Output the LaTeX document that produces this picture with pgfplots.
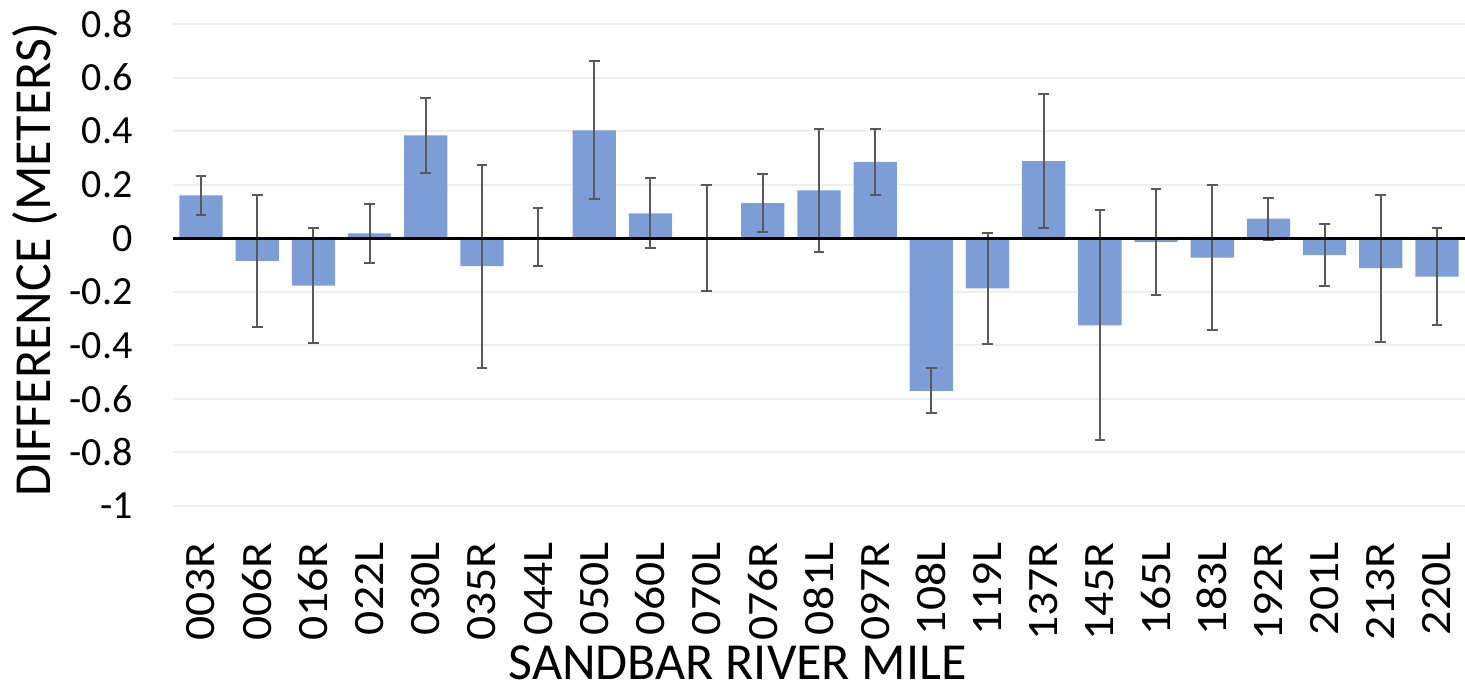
\documentclass[border=0pt]{standalone}
\usepackage{fontspec}
\setmainfont{Carlito}
\usepackage{pgfplots}
\usepackage{pgfplotstable}
\pgfplotsset{compat=1.18}
\definecolor{barblue}{RGB}{124,157,213}
\definecolor{errgray}{RGB}{89,89,89}
\definecolor{gridgray}{RGB}{238,238,238}
\pgfplotstableread{
x y err
0 0.160 0.072
1 -0.085 0.245
2 -0.177 0.215
3 0.018 0.110
4 0.384 0.140
5 -0.104 0.379
6 0.005 0.107
7 0.403 0.257
8 0.093 0.131
9 0.000 0.198
10 0.131 0.108
11 0.179 0.229
12 0.285 0.123
13 -0.570 0.084
14 -0.187 0.208
15 0.288 0.250
16 -0.325 0.429
17 -0.014 0.198
18 -0.072 0.270
19 0.073 0.078
20 -0.063 0.117
21 -0.112 0.275
22 -0.143 0.180
}\datatable
\begin{document}
\begin{tikzpicture}
\begin{axis}[
  scale only axis,
  width=387.6bp, height=144.6bp,
  xmin=-0.5, xmax=22.5,
  ymin=-1, ymax=0.8,
  ytick={-1,-0.8,-0.6,-0.4,-0.2,0,0.2,0.4,0.6,0.8},
  xtick=data,
  xticklabels={003R,006R,016R,022L,030L,035R,044L,050L,060L,070L,076R,081L,097R,108L,119L,137R,145R,165L,183L,192R,201L,213R,220L},
  axis line style={draw=none},
  major tick length=0pt,
  ymajorgrids,
  major grid style={gridgray, line width=0.6bp},
  /pgf/number format/assume math mode=true,
  /pgf/number format/fixed,
  yticklabel style={font=\fontsize{12bp}{14bp}\selectfont, xshift=-8.6bp},
  xticklabel style={font=\fontsize{13bp}{15bp}\selectfont, yshift=-7.1bp, rotate=90, anchor=east, xscale=1.1},
  xlabel={SANDBAR RIVER MILE},
  ylabel={DIFFERENCE (METERS)},
  xlabel style={font=\fontsize{15.6bp}{18bp}\selectfont, at={([xshift=169.4bp, yshift=-52.0bp]rel axis cs:0,0)}, anchor=base},
  ylabel style={font=\fontsize{15.6bp}{18bp}\selectfont, at={([xshift=-41.4bp, yshift=1.5bp]rel axis cs:0,0.5)}, anchor=center},
]
\addplot[ybar, bar width=0.77, bar shift=0pt, fill=barblue, draw=none,
  error bars/.cd, y dir=both, y explicit,
  error bar style={errgray, line width=0.6bp},
  error mark options={errgray, line width=0.6bp, mark size=1.6bp, rotate=90}]
  table[x=x, y=y, y error=err]{\datatable};
\draw[black, line width=0.9bp] (axis cs:-0.5,0) -- (axis cs:22.5,0);
\end{axis}
\pgfresetboundingbox
\path ([xshift=-51.9bp, yshift=-54.9bp]current axis.south west) rectangle ([yshift=7.2bp]current axis.north east);
\end{tikzpicture}
\end{document}
